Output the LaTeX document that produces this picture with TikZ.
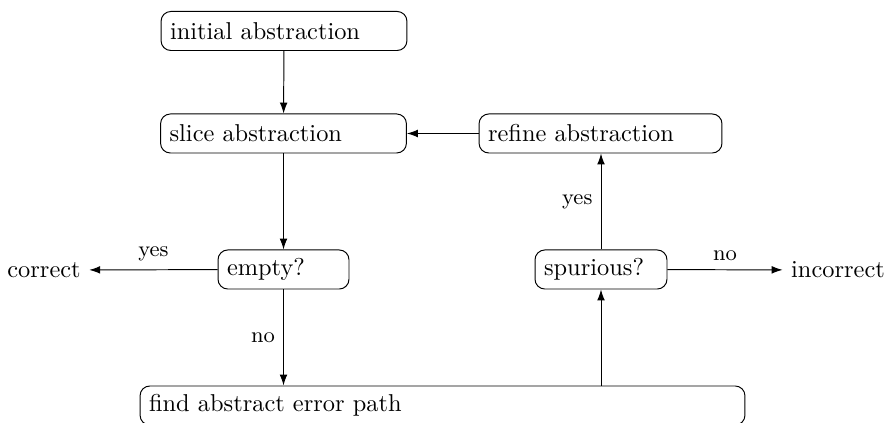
\documentclass[tikz,border=0pt]{standalone}
\usetikzlibrary{arrows.meta}
\begin{document}
\begin{tikzpicture}[x=0.41pt,y=-0.41pt,
  procbox/.style={draw, rounded corners=4pt, minimum height=16pt, inner xsep=3.7pt, inner ysep=2pt, align=left, anchor=center},
  conn/.style={-{Latex[length=4.5pt,width=3.2pt]}, line width=0.4pt},
  lbl/.style={font=\small}]
\useasboundingbox (0,0) rectangle (887,423);
\node[procbox, text width=93.4pt] (init) at (284,31) {initial abstraction};
\node[procbox, text width=93.4pt] (slice) at (283.5,133.5) {slice abstraction};
\node[procbox, text width=92.2pt] (refine) at (600.5,133.5) {refine abstraction};
\node[procbox, text width=46.3pt] (empty) at (283.5,269.5) {empty?};
\node[procbox, text width=46.7pt] (spur) at (601,269.5) {spurious?};
\node[procbox, text width=240.6pt] (find) at (442.5,405.5) {find abstract error path};
\node (correct) at (44,270) {correct};
\node (incorrect) at (838,270) {incorrect};
\draw[conn] (init) -- (slice);
\draw[conn] (slice) -- (empty);
\draw[conn] (refine) -- (slice);
\draw[conn] (empty) -- node[lbl, above] {yes} (correct);
\draw[conn] (empty.south) -- node[lbl, left] {no} (empty.south |- find.north);
\draw[conn] (spur.south |- find.north) -- (spur.south);
\draw[conn] (spur.north) -- node[lbl, left] {yes} (spur.north |- refine.south);
\draw[conn] (spur) -- node[lbl, above] {no} (incorrect);
\end{tikzpicture}
\end{document}
